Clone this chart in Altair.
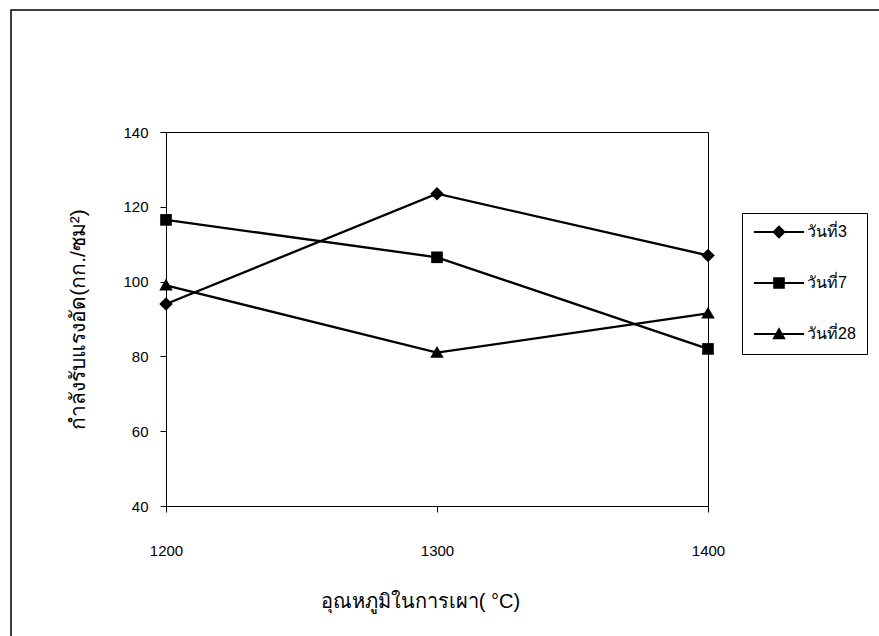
import altair as alt
import pandas as pd

temps = [1200, 1300, 1400]
series_names = ["วันที่3", "วันที่7", "วันที่28"]
day3 = [94, 123.5, 107]
day7 = [116.5, 106.5, 82]
day28 = [99, 81, 91.5]
y_ticks = [40, 60, 80, 100, 120, 140]

rows = []
for name, vals in zip(series_names, [day3, day7, day28]):
    for t, v in zip(temps, vals):
        rows.append({"temp": t, "value": v, "series": name})
df = pd.DataFrame(rows)

marker_paths = [
    "M0,-1.1L1.1,0L0,1.1L-1.1,0Z",
    "M-0.95,-0.95L0.95,-0.95L0.95,0.95L-0.95,0.95Z",
    "M0,-1.1L1.1,0.85L-1.1,0.85Z",
]
E = 4.1
seg = f"M-{E},-0.18L{E},-0.18L{E},0.18L-{E},0.18Z"
legend_paths = [seg + p for p in marker_paths]

W, H = 542, 374
L, T = 166, 132

x_enc = alt.X("temp:Q", scale=alt.Scale(domain=[1200, 1400], nice=False),
              axis=alt.Axis(values=temps, format="d", title="อุณหภูมิในการเผา( °C)",
                            grid=False, tickSize=6, labelPadding=31, titlePadding=33,
                            labelFontSize=15, titleFontSize=20, titleX=254,
                            labelFlush=False))
y_enc = alt.Y("value:Q", scale=alt.Scale(domain=[40, 140], nice=False),
              axis=alt.Axis(values=y_ticks, title="กำลังรับแรงอัด(กก./ซม²)",
                            grid=False, tickSize=6, labelPadding=12, titlePadding=34,
                            labelFontSize=15, titleFontSize=21))

lines = alt.Chart(df).mark_line(color="black", strokeWidth=2.3).encode(
    x=x_enc, y=y_enc, detail="series:N"
)

points = alt.Chart(df).mark_point(filled=True, color="black", size=150,
                                  strokeWidth=0, opacity=1).encode(
    x="temp:Q", y="value:Q",
    shape=alt.Shape("series:N",
                    scale=alt.Scale(domain=series_names, range=marker_paths),
                    legend=None)
)

legend_layer = alt.Chart(df).transform_filter("datum.value < 0").mark_point(
    filled=True, color="black", size=150, strokeWidth=0, opacity=1
).encode(
    x="temp:Q", y="value:Q",
    shape=alt.Shape("series:N",
                    scale=alt.Scale(domain=series_names, range=legend_paths),
                    legend=alt.Legend(title=None, orient="none", legendX=576, legendY=81,
                                      padding=11, strokeColor="black", fillColor="white",
                                      symbolSize=150, symbolFillColor="black",
                                      symbolOffset=18, labelOffset=20, rowPadding=32,
                                      labelFontSize=16, labelFont="Liberation Sans",
                                      symbolOpacity=1))
)

border = alt.Chart(pd.DataFrame({"a": [0]})).mark_rect(
    fill=None, stroke="black", strokeWidth=1.5
).encode(
    x=alt.value(11 - L), x2=alt.value(879 - L + 10),
    y=alt.value(10 - T), y2=alt.value(636 - T + 10)
)

chart = alt.layer(border, lines, points, legend_layer).resolve_scale(
    shape="independent"
).properties(
    width=W, height=H,
    autosize=alt.AutoSizeParams(type="none"),
    padding={"left": L, "top": T, "right": 879 - L - W, "bottom": 636 - T - H},
    background="white",
).configure_view(stroke="black", strokeWidth=1).configure_axis(
    domainColor="black", tickColor="black", labelColor="black", titleColor="black",
    labelFont="Liberation Sans", titleFont="Liberation Sans", titleFontWeight="normal"
)

chart.save("out.html", embed_options={"renderer": "svg", "actions": False})
